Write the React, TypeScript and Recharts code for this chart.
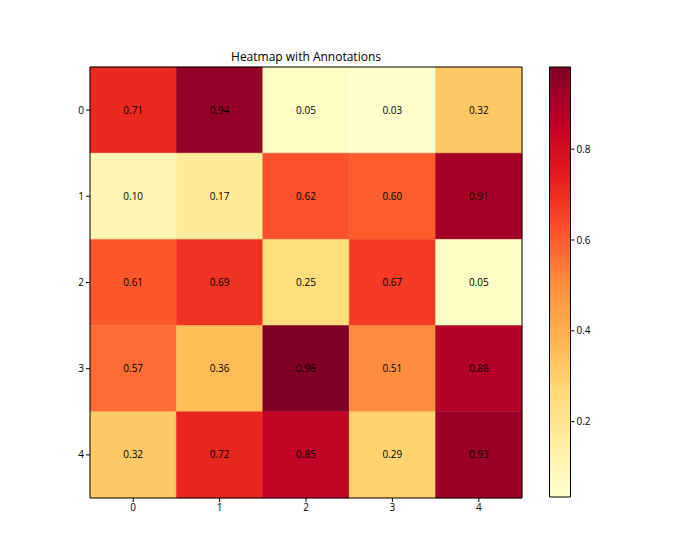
import { ScatterChart, Scatter, ComposedChart, XAxis, YAxis, ReferenceArea } from 'recharts'

const rowLabels = [0, 1, 2, 3, 4]
const colLabels = [0, 1, 2, 3, 4]

const row0 = [0.71, 0.94, 0.05, 0.03, 0.32]
const row1 = [0.1, 0.17, 0.62, 0.6, 0.91]
const row2 = [0.61, 0.69, 0.25, 0.67, 0.05]
const row3 = [0.57, 0.36, 0.98, 0.51, 0.88]
const row4 = [0.32, 0.72, 0.85, 0.29, 0.93]
const grid = [row0, row1, row2, row3, row4]

const colorbarTicks = [0.2, 0.4, 0.6, 0.8]
const vMin = 0.034
const vMax = 0.981

// YlOrRd (colorbrewer 9)
const ylOrRd = ['#ffffcc', '#ffeda0', '#fed976', '#feb24c', '#fd8d3c', '#fc4e2a', '#e31a1c', '#bd0026', '#800026']

function hexToRgb(h: string) {
  return [parseInt(h.slice(1, 3), 16), parseInt(h.slice(3, 5), 16), parseInt(h.slice(5, 7), 16)]
}

function colorFor(v: number) {
  const t = Math.min(1, Math.max(0, (v - vMin) / (vMax - vMin)))
  const pos = t * (ylOrRd.length - 1)
  const i = Math.min(ylOrRd.length - 2, Math.floor(pos))
  const f = pos - i
  const a = hexToRgb(ylOrRd[i])
  const b = hexToRgb(ylOrRd[i + 1])
  const c = a.map((x, k) => Math.round(x + (b[k] - x) * f))
  return `rgb(${c[0]},${c[1]},${c[2]})`
}

const cells = grid.flatMap((row, r) => row.map((value, c) => ({ x: colLabels[c], y: rowLabels[r], value })))

const font = 'Open Sans, DejaVu Sans, sans-serif'
const tickStyle = { fill: '#000', fontSize: 10, fontFamily: font }

export default function App() {
  return (
    <div style={{ position: 'absolute', left: 0, top: 0, width: 700, height: 560, background: '#fff', fontFamily: font }}>
      <div style={{ position: 'absolute', left: 90, width: 432, top: 48, textAlign: 'center', fontSize: 12, color: '#000' }}>
        Heatmap with Annotations
      </div>

      <div style={{ position: 'absolute', left: 0, top: 0 }}>
        <ScatterChart width={700} height={560} margin={{ top: 67, left: 60, right: 178, bottom: 32 }}>
          <XAxis
            type="number"
            dataKey="x"
            domain={[-0.5, 4.5]}
            ticks={colLabels}
            allowDataOverflow
            height={30}
            tickSize={4}
            tick={tickStyle}
            axisLine={false}
            tickLine={{ stroke: '#000' }}
          />
          <YAxis
            type="number"
            dataKey="y"
            domain={[-0.5, 4.5]}
            ticks={rowLabels}
            reversed
            allowDataOverflow
            width={30}
            tickSize={4}
            tick={tickStyle}
            axisLine={false}
            tickLine={{ stroke: '#000' }}
          />
          {cells.map((d) => (
            <ReferenceArea
              key={`${d.x}-${d.y}`}
              x1={d.x - 0.5}
              x2={d.x + 0.5}
              y1={d.y - 0.5}
              y2={d.y + 0.5}
              fill={colorFor(d.value)}
              fillOpacity={1}
              stroke={colorFor(d.value)}
              strokeWidth={0.5}
              label={{ value: d.value.toFixed(2), position: 'center', fill: '#000', fontSize: 10, fontFamily: font }}
            />
          ))}
          <ReferenceArea x1={-0.5} x2={4.5} y1={-0.5} y2={4.5} fill="none" stroke="#000" strokeWidth={1} />
          <Scatter data={cells} isAnimationActive={false} shape={() => <g />} />
        </ScatterChart>
      </div>

      <div style={{ position: 'absolute', left: 540, top: 0 }}>
        <ComposedChart width={70} height={560} data={[{ x: 0 }, { x: 1 }]} margin={{ top: 67, left: 9.5, right: 9.5, bottom: 63 }}>
          <defs>
            <linearGradient id="cbGrad" x1="0" y1="0" x2="0" y2="1">
              {ylOrRd
                .slice()
                .reverse()
                .map((c, i) => (
                  <stop key={c} offset={i / (ylOrRd.length - 1)} stopColor={c} />
                ))}
            </linearGradient>
          </defs>
          <XAxis type="number" dataKey="x" domain={[0, 1]} hide />
          <YAxis
            orientation="right"
            type="number"
            domain={[vMin, vMax]}
            ticks={colorbarTicks}
            allowDataOverflow
            width={30}
            tickSize={4}
            tick={tickStyle}
            axisLine={false}
            tickLine={{ stroke: '#000' }}
          />
          <ReferenceArea x1={0} x2={1} y1={vMin} y2={vMax} fill="url(#cbGrad)" fillOpacity={1} stroke="#000" strokeWidth={1} />
          <Scatter dataKey="x" isAnimationActive={false} shape={() => <g />} />
        </ComposedChart>
      </div>
    </div>
  )
}
